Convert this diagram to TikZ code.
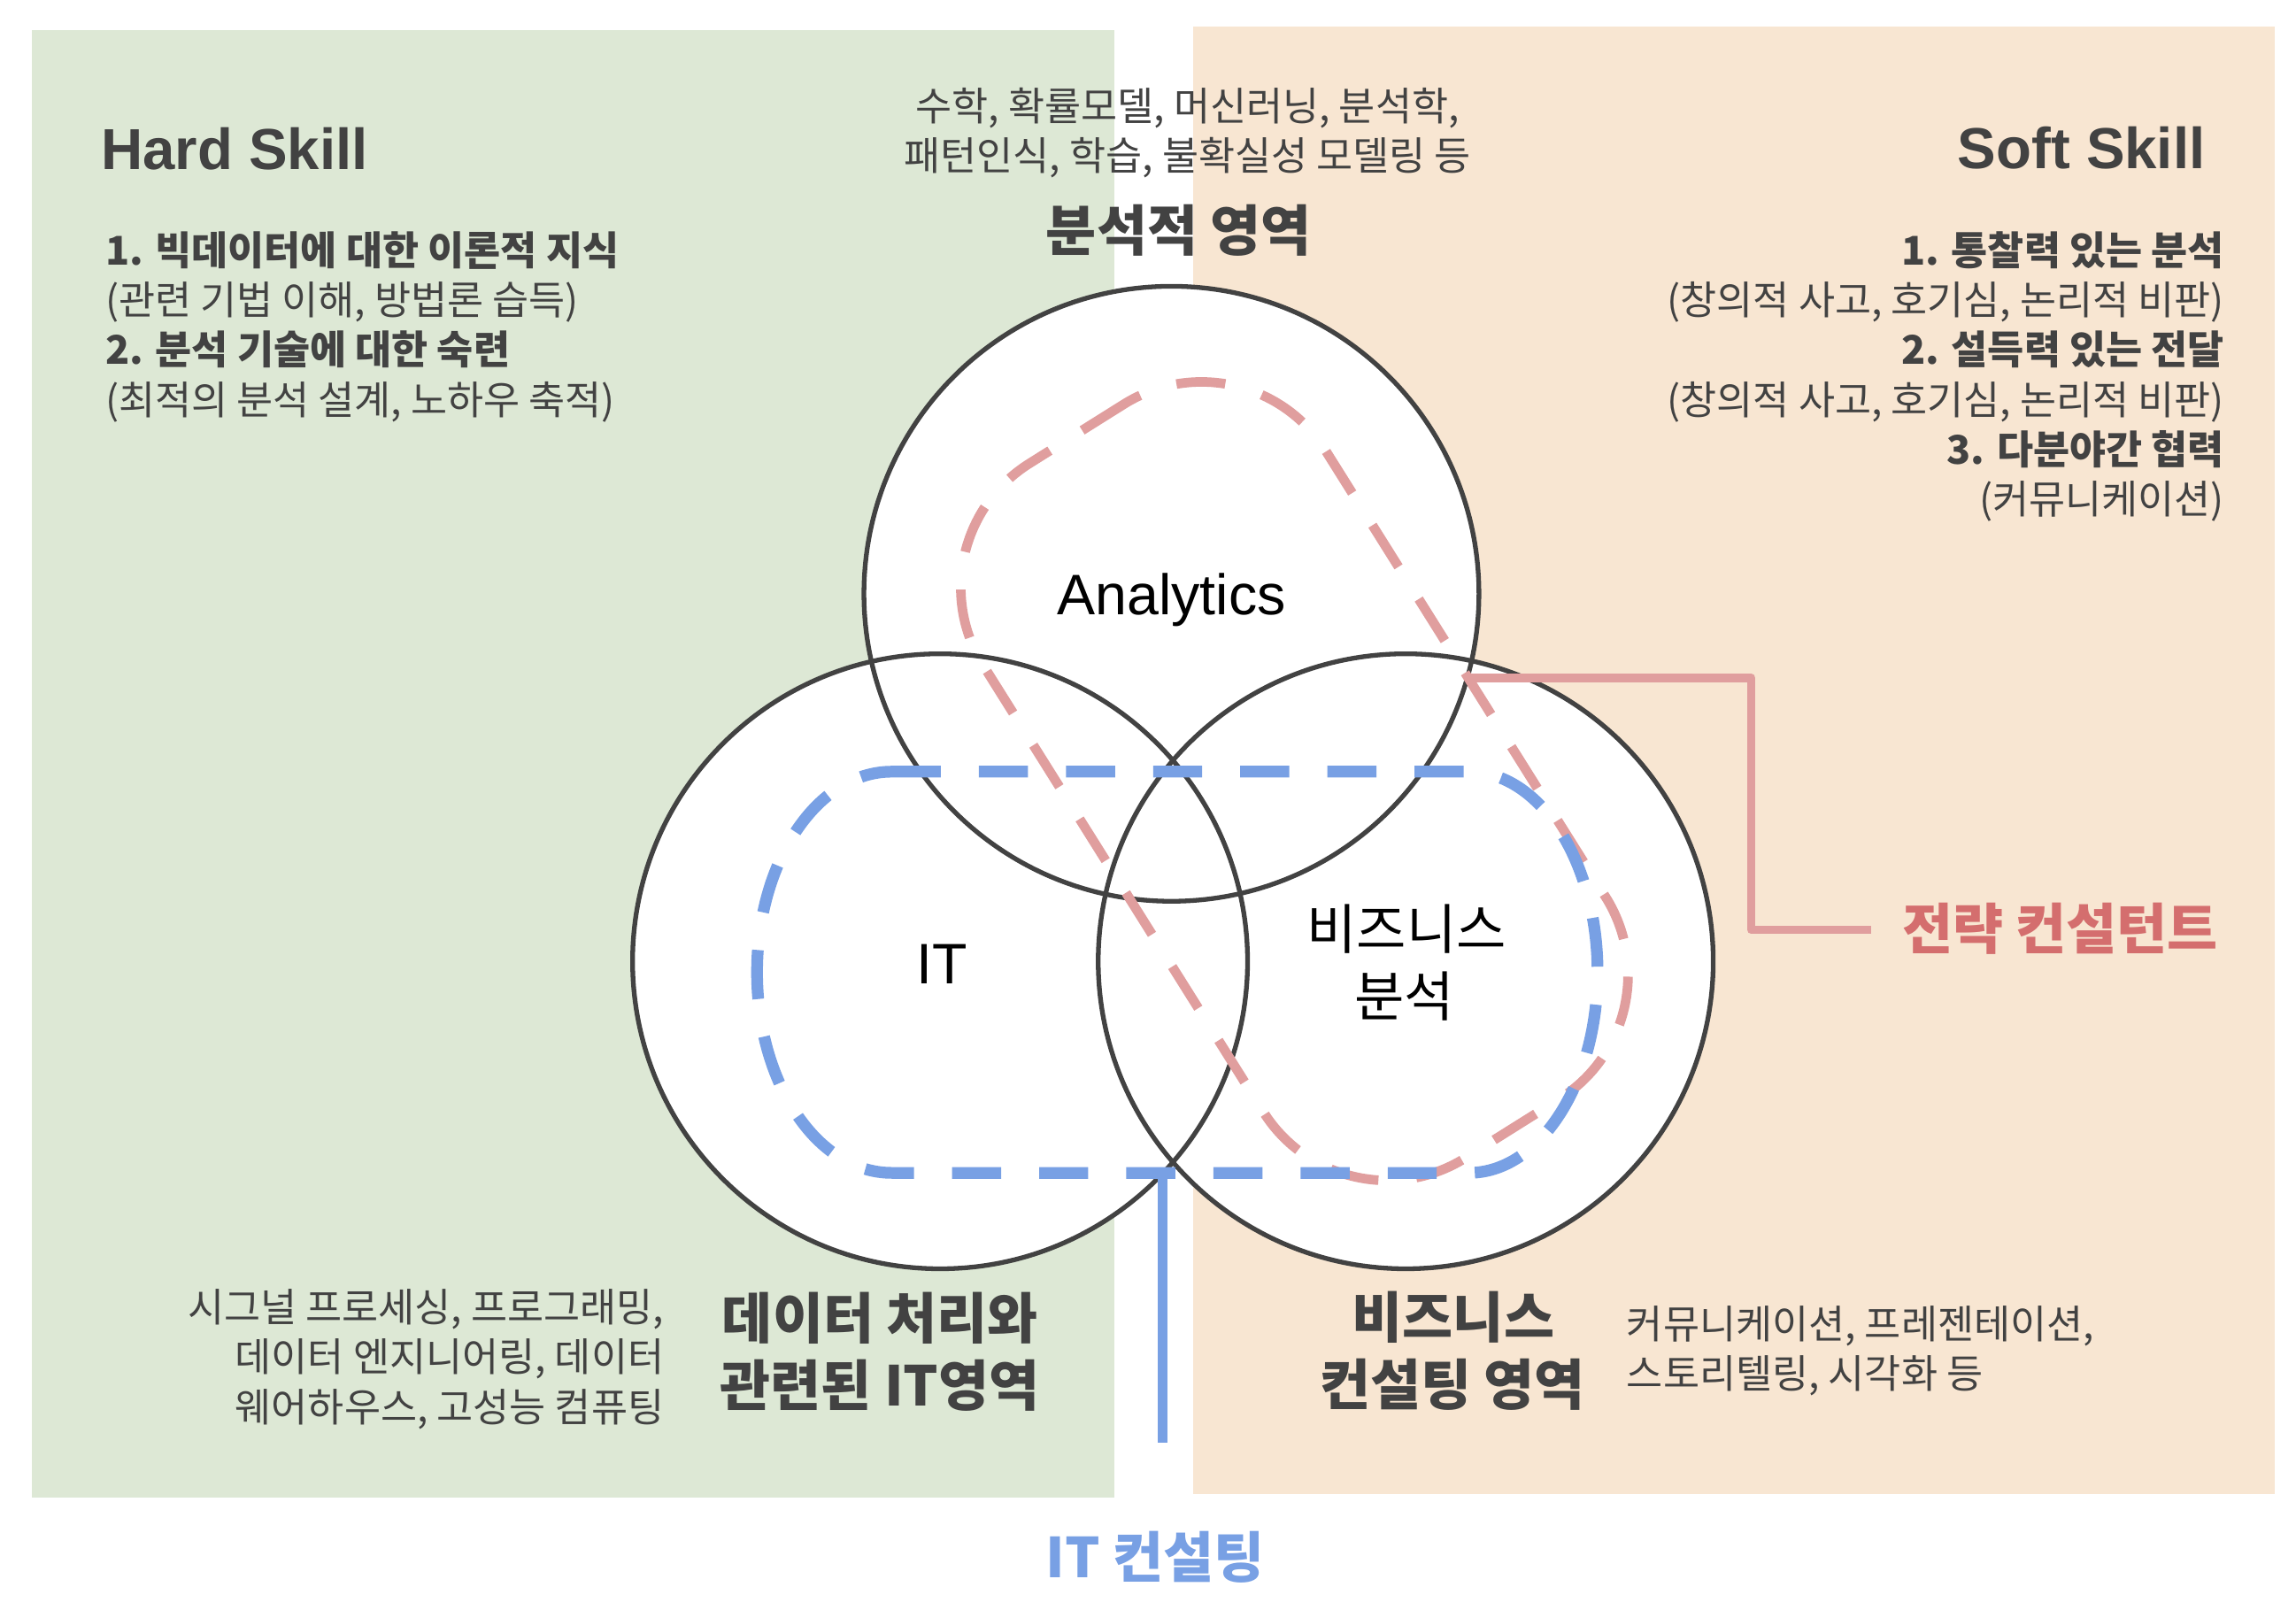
\documentclass[tikz,border=0pt]{standalone}
\usepackage{fontspec}
\setmainfont{Liberation Sans}
\newfontfamily\kr{Noto Sans CJK KR}

\definecolor{hardbg}{HTML}{DDE8D5}
\definecolor{softbg}{HTML}{F8E6D2}
\definecolor{ink}{HTML}{424242}
\definecolor{pinkline}{HTML}{E09E9E}
\definecolor{pinktext}{HTML}{D46E6E}
\definecolor{blueline}{HTML}{78A0E4}

\tikzset{
  txt/.style={inner sep=0pt, outer sep=0pt},
  body/.style={txt, text=ink, font=\kr\fontsize{27}{34}\selectfont},
  bodyb/.style={txt, text=ink, font=\kr\bfseries\fontsize{27}{34}\selectfont},
  area/.style={txt, text=ink, font=\kr\bfseries\fontsize{37.5}{45}\selectfont},
  skill/.style={txt, text=ink, font=\bfseries\fontsize{39.5}{45}\selectfont},
  setname/.style={txt, text=black, font=\fontsize{39}{45}\selectfont},
  setnamekr/.style={txt, text=black, font=\kr\fontsize{37}{45}\selectfont},
  ring/.style={draw=ink, line width=3.2pt},
  pinkdash/.style={draw=pinkline, line width=6.5pt, dash pattern=on 33.5pt off 26pt},
  bluedash/.style={draw=blueline, line width=8pt, dash pattern=on 33.5pt off 26pt},
}

\begin{document}
\begin{tikzpicture}[x=1pt, y=-1pt]
  \useasboundingbox (0,0) rectangle (1568,1099);

  % skill panels
  \fill[hardbg] (22,20.5) rectangle (761,1022.5);
  \fill[softbg] (815,18) rectangle (1553.5,1020.5);

  % venn circles
  \coordinate (cA) at (800,405.5);
  \coordinate (cI) at (642,656.5);
  \coordinate (cB) at (960,656.5);
  \foreach \c in {cA,cI,cB} \fill[white] (\c) circle (210);
  \foreach \c in {cA,cI,cB} \draw[ring] (\c) circle (210);

  % strategy consultant connector
  \coordinate (sc0) at (1003,463);
  \coordinate (sc1) at (1196,463);
  \coordinate (sc2) at (1196,635);
  \coordinate (sc3) at (1278,635);
  \draw[pinkline, line width=5.8pt, line join=round] (sc0) -- (sc1) -- (sc2) -- (sc3);

  % strategy consultant region: tilted rounded band
  \begin{scope}[shift={(884,533.5)}, rotate=-57.9]
    \draw[pinkdash, rounded corners=100pt] (-280,-138) rectangle (280,138);
  \end{scope}

  % IT consulting region
  \draw[bluedash] (609,527) -- (1003,527)
    arc[start angle=-90, end angle=90, x radius=88, y radius=137]
    -- (609,801)
    arc[start angle=90, end angle=270, x radius=92, y radius=137] -- cycle;

  % IT consulting connector
  \coordinate (it0) at (794,797);
  \coordinate (it1) at (794,985);
  \draw[blueline, line width=6.5pt] (it0) -- (it1);

  % set names
  \node[setname, anchor=base] (ana) at (800,420) {Analytics};
  \node[setname, anchor=base] (it) at (643,671.6) {IT};
  \node[setnamekr, anchor=base] (biz1) at (960.5,648) {비즈니스};
  \node[setnamekr, anchor=base] (biz2) at (959,694) {분석};

  % hard skill
  \node[skill, anchor=base west] (hard) at (69,115.6) {Hard Skill};
  \node[bodyb, anchor=base west] (h1) at (72,181) {1. 빅데이터에 대한 이론적 지식};
  \node[body, anchor=base west] (h2) at (72,215) {(관련 기법 이해, 방법론 습득)};
  \node[bodyb, anchor=base west] (h3) at (72,249) {2. 분석 기술에 대한 숙련};
  \node[body, anchor=base west] (h4) at (72,283) {(최적의 분석 설계, 노하우 축적)};

  % soft skill
  \node[skill, anchor=base east] (soft) at (1506,115.4) {Soft Skill};
  \node[bodyb, anchor=base east] (s1) at (1519,181) {1. 통찰력 있는 분석};
  \node[body, anchor=base east] (s2) at (1519,215) {(창의적 사고, 호기심, 논리적 비판)};
  \node[bodyb, anchor=base east] (s3) at (1519,249) {2. 설득력 있는 전달};
  \node[body, anchor=base east] (s4) at (1519,283) {(창의적 사고, 호기심, 논리적 비판)};
  \node[bodyb, anchor=base east] (s5) at (1519,317) {3. 다분야간 협력};
  \node[body, anchor=base east] (s6) at (1519,351) {(커뮤니케이션)};

  % analytics area
  \node[body, anchor=base] (a1) at (811,82.5) {수학, 확률모델, 머신러닝, 분석학,};
  \node[body, anchor=base] (a2) at (811,116.5) {패턴인식, 학습, 불확실성 모델링 등};
  \node[area, anchor=base] (aarea) at (805,171.5) {분석적 영역};

  % IT area
  \node[body, anchor=base east] (d1) at (453.5,903) {시그널 프로세싱, 프로그래밍,};
  \node[body, anchor=base east] (d2) at (453.5,936.5) {데이터 엔지니어링, 데이터};
  \node[body, anchor=base east] (d3) at (453.5,971) {웨어하우스, 고성능 컴퓨팅};
  \node[area, anchor=base] (iarea1) at (601,914) {데이터 처리와};
  \node[area, anchor=base] (iarea2) at (601,960) {관련된 IT영역};

  % business consulting area
  \node[area, anchor=base] (barea1) at (992.5,913.5) {비즈니스};
  \node[area, anchor=base] (barea2) at (992,959.5) {컨설팅 영역};
  \node[body, anchor=base west] (b1) at (1111,914) {커뮤니케이션, 프레젠테이션,};
  \node[body, anchor=base west] (b2) at (1111,948) {스토리텔링, 시각화 등};

  % consultant labels
  \node[area, text=blueline, anchor=base] (itc) at (789,1077.5) {IT 컨설팅};
  \node[area, text=pinktext, anchor=base west] (stc) at (1299,648) {전략 컨설턴트};
\end{tikzpicture}
\end{document}
